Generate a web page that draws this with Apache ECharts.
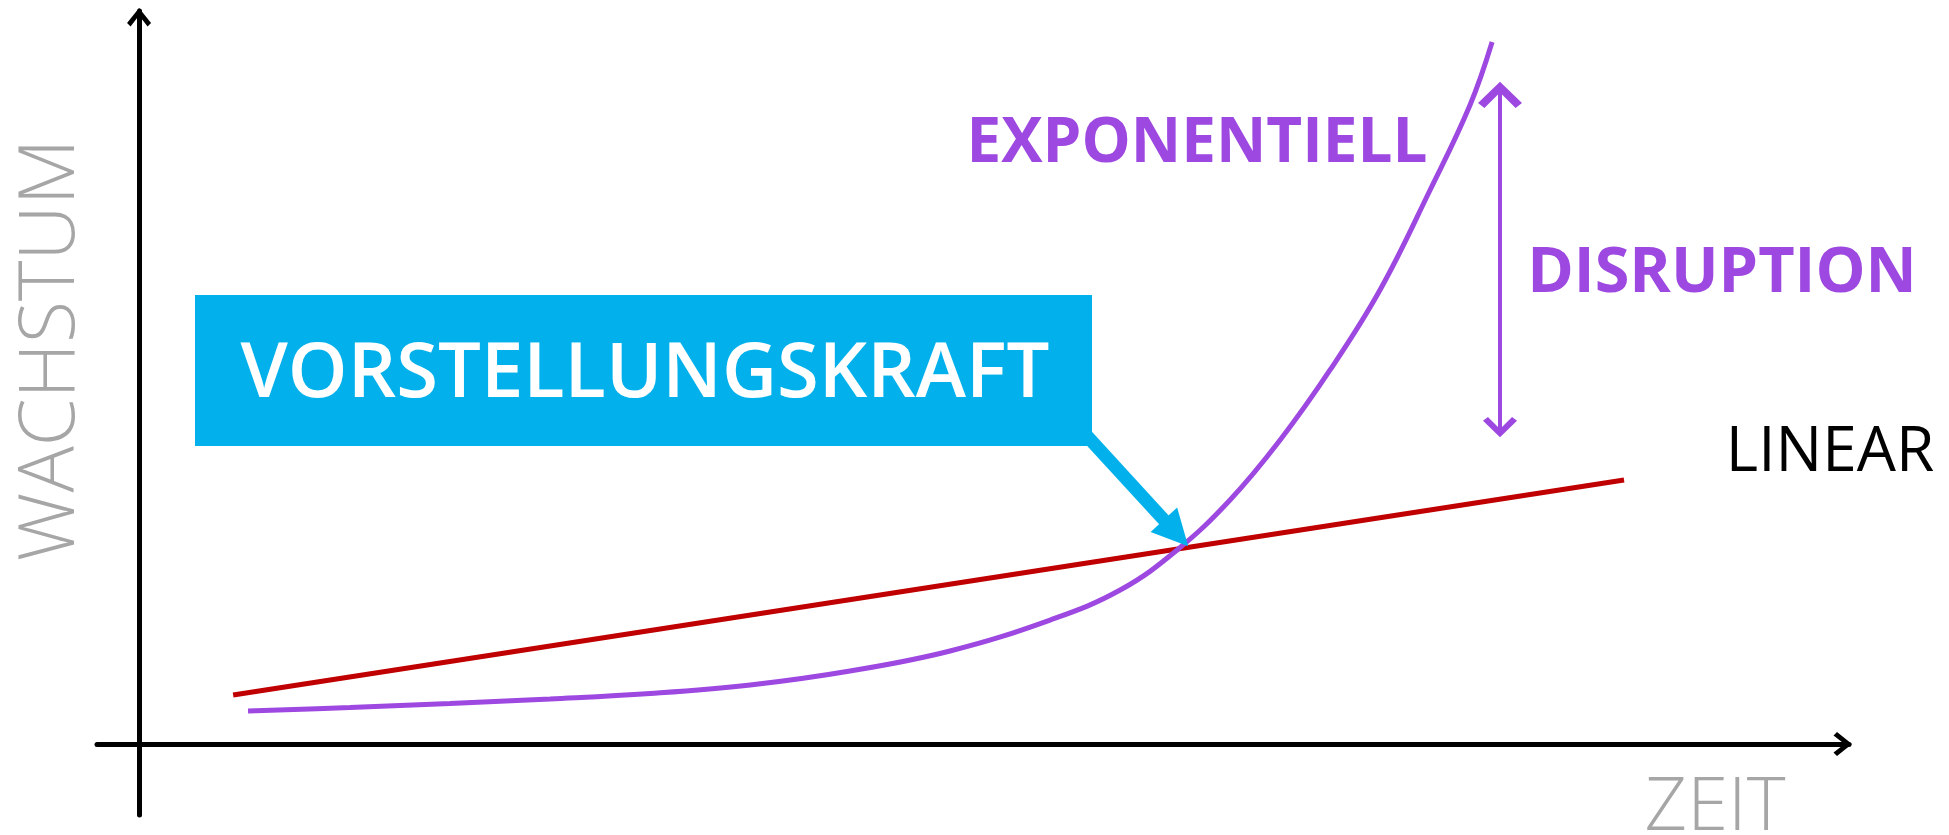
<!DOCTYPE html>
<html><head><meta charset="utf-8">
<script src="https://cdn.jsdelivr.net/npm/echarts@6/dist/echarts.min.js"></script>
<style>html,body{margin:0;padding:0;background:#fff}#chart{width:1949px;height:835px}</style>
</head><body><div id="chart"></div>
<script>
// ---- data (axis units: time 0..~97, growth 0..~91) ----
const linearTime = [5.37, 84.76];
const linearGrowth = [6.09, 32.84];
const expTime = [6.22, 12.04, 17.75, 23.46, 29.17, 34.88, 40.58, 46.29, 52.00, 56.00, 59.25, 62.27, 65.13, 67.98, 70.83, 73.69, 75.97, 77.23];
const expGrowth = [4.10, 4.54, 5.04, 5.60, 6.28, 7.34, 9.08, 11.57, 15.42, 19.15, 24.13, 30.35, 37.81, 46.52, 56.47, 68.91, 79.48, 87.31];
const pointerTime = [54.00, 59.19];
const pointerGrowth = [38.56, 26.24];
const disruptionTime = [77.68, 77.68];
const disruptionGrowth = [38.56, 81.84];
const labels = ['VORSTELLUNGSKRAFT', 'EXPONENTIELL', 'DISRUPTION', 'LINEAR'];
const axisNames = ['ZEIT', 'WACHSTUM'];

const PURPLE = '#9d48e0', RED = '#c00000', BLUE = '#02b1ec', GRAY = '#a6a6a6';
const FONT = '"Open Sans", "Noto Sans", sans-serif';
// chevron pointing up; tip 3 units ahead of the symbol centre
const CHEVRON = 'path://M12,-12.5L12.01,-12.5L12,-12.49Z M12,0L24,15L20.5,18.5L12,7.5L3.5,18.5L0,15Z';

const zip = (a, b) => a.map((v, i) => [v, b[i]]);

const chart = echarts.init(document.getElementById('chart'), null, {renderer: 'canvas'});
chart.setOption({
  animation: false,
  backgroundColor: '#fff',
  grid: {left: 97, right: 100, top: 11, bottom: 20},
  xAxis: {
    type: 'value', min: -2.4, max: 97.6,
    axisLine: {onZero: true, lineStyle: {color: '#000', width: 5},
      symbol: ['none', CHEVRON], symbolSize: [24, 31], symbolOffset: [0, 0]},
    axisTick: {show: false}, axisLabel: {show: false}, splitLine: {show: false}
  },
  yAxis: {
    type: 'value', min: -8.83, max: 91.17,
    axisLine: {onZero: true, lineStyle: {color: '#000', width: 5},
      symbol: ['none', CHEVRON], symbolSize: [24, 31], symbolOffset: [0, 0]},
    axisTick: {show: false}, axisLabel: {show: false}, splitLine: {show: false}
  },
  series: [
    {type: 'line', name: 'LINEAR', data: zip(linearTime, linearGrowth), showSymbol: false,
      lineStyle: {color: RED, width: 5}, z: 3},
    {type: 'line', name: 'EXPONENTIELL', data: zip(expTime, expGrowth), showSymbol: false,
      smooth: 0.4,
      lineStyle: {color: PURPLE, width: 5}, z: 4},
    {type: 'lines', coordinateSystem: 'cartesian2d', z: 5,
      data: [{coords: zip(pointerTime, pointerGrowth)}],
      lineStyle: {color: BLUE, width: 13, opacity: 1},
      symbol: ['none', 'triangle'], symbolSize: [34, 36]},
    {type: 'lines', coordinateSystem: 'cartesian2d', z: 5,
      data: [{coords: zip(disruptionTime, disruptionGrowth)}],
      lineStyle: {color: PURPLE, width: 4, opacity: 1},
      symbol: [CHEVRON, CHEVRON], symbolSize: [34, 44]}
  ],
  graphic: [
    {type: 'rect', z: 10, shape: {x: 195, y: 295, width: 897, height: 151}, style: {fill: BLUE}},
    {type: 'text', z: 11, x: 645, y: 375, style: {text: labels[0], fill: '#fff', fontFamily: FONT,
      fontWeight: 600, fontSize: 76, align: 'center', verticalAlign: 'middle'}},
    {type: 'text', z: 11, x: 1197, y: 144, style: {text: labels[1], fill: PURPLE, fontFamily: FONT,
      fontWeight: 'bold', fontSize: 62, align: 'center', verticalAlign: 'middle'}},
    {type: 'text', z: 11, x: 1722, y: 274, style: {text: labels[2], fill: PURPLE, fontFamily: FONT,
      fontWeight: 'bold', fontSize: 63, align: 'center', verticalAlign: 'middle'}},
    {type: 'text', z: 11, x: 1830, y: 453, style: {text: labels[3], fill: '#000', fontFamily: FONT,
      fontWeight: 'normal', fontSize: 62, align: 'center', verticalAlign: 'middle'}},
    {type: 'text', z: 11, x: 1715, y: 809, style: {text: axisNames[0], fill: GRAY, fontFamily: FONT,
      fontWeight: 300, fontSize: 74, align: 'center', verticalAlign: 'middle'}},
    {type: 'text', z: 11, x: 52, y: 350, rotation: Math.PI / 2, style: {text: axisNames[1], fill: GRAY, fontFamily: FONT,
      fontWeight: 300, fontSize: 77, align: 'center', verticalAlign: 'middle'}}
  ]
});
</script></body></html>
